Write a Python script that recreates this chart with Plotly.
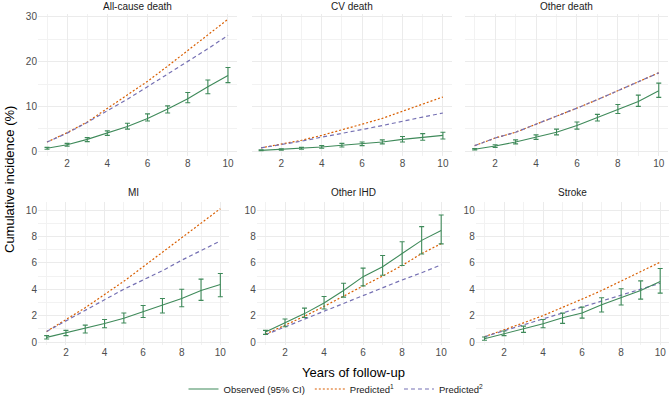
import plotly.graph_objects as go

years = [1, 2, 3, 4, 5, 6, 7, 8, 9, 10]

panel_titles = ["All-cause death", "CV death", "Other death", "MI", "Other IHD", "Stroke"]

# observed cumulative incidence with 95% CI, and two predicted curves
allcause_obs = [0.6, 1.4, 2.6, 4.0, 5.5, 7.3, 9.4, 11.7, 14.4, 16.9]
allcause_lo = [0.4, 1.1, 2.1, 3.5, 4.9, 6.7, 8.5, 10.8, 12.8, 15.3]
allcause_hi = [0.8, 1.7, 3.0, 4.5, 6.2, 8.3, 10.1, 13.1, 15.9, 18.7]
allcause_p1 = [2.0, 4.1, 6.5, 9.5, 12.4, 15.6, 19.0, 22.4, 26.0, 29.5]
allcause_p2 = [2.0, 4.0, 6.4, 9.0, 11.6, 14.4, 17.2, 20.0, 22.9, 25.9]

cv_obs = [0.15, 0.4, 0.6, 0.9, 1.3, 1.7, 2.0, 2.6, 3.1, 3.5]
cv_lo = [0.05, 0.2, 0.4, 0.6, 0.9, 1.2, 1.6, 2.0, 2.4, 2.7]
cv_hi = [0.25, 0.5, 0.8, 1.2, 1.7, 2.0, 2.5, 3.25, 3.9, 4.2]
cv_p1 = [0.7, 1.5, 2.4, 3.5, 4.7, 6.0, 7.3, 8.9, 10.5, 12.1]
cv_p2 = [0.7, 1.4, 2.2, 3.1, 3.9, 4.8, 5.7, 6.7, 7.6, 8.5]

other_obs = [0.4, 1.1, 2.0, 3.1, 4.2, 5.7, 7.5, 9.4, 11.1, 13.5]
other_lo = [0.25, 0.8, 1.6, 2.6, 3.6, 4.9, 6.7, 8.4, 10.0, 12.0]
other_hi = [0.55, 1.4, 2.5, 3.6, 4.9, 6.5, 8.2, 10.4, 12.5, 15.2]
other_p1 = [1.2, 2.9, 4.2, 6.0, 7.7, 9.6, 11.5, 13.5, 15.4, 17.5]
other_p2 = [1.2, 2.9, 4.2, 6.0, 7.7, 9.6, 11.5, 13.5, 15.4, 17.5]

mi_obs = [0.35, 0.7, 1.0, 1.4, 1.8, 2.3, 2.8, 3.3, 3.9, 4.35]
mi_lo = [0.23, 0.48, 0.68, 1.08, 1.44, 1.86, 2.2, 2.67, 3.15, 3.43]
mi_hi = [0.48, 0.88, 1.28, 1.7, 2.2, 2.77, 3.3, 4.0, 4.76, 5.19]
mi_p1 = [0.8, 1.7, 2.6, 3.6, 4.6, 5.7, 6.8, 7.9, 9.0, 10.1]
mi_p2 = [0.8, 1.6, 2.4, 3.2, 4.0, 4.7, 5.4, 6.2, 6.9, 7.65]

ihd_obs = [0.75, 1.45, 2.15, 2.95, 3.9, 4.95, 5.7, 6.7, 7.7, 8.45]
ihd_lo = [0.58, 1.16, 1.86, 2.5, 3.4, 4.25, 5.06, 5.8, 6.67, 7.43]
ihd_hi = [0.88, 1.74, 2.57, 3.45, 4.45, 5.6, 6.55, 7.6, 8.74, 9.62]
ihd_p1 = [0.6, 1.25, 1.95, 2.7, 3.5, 4.25, 5.0, 5.8, 6.7, 7.45]
ihd_p2 = [0.55, 1.15, 1.75, 2.35, 2.95, 3.55, 4.1, 4.7, 5.25, 5.85]

stroke_obs = [0.25, 0.63, 0.96, 1.38, 1.84, 2.2, 2.82, 3.38, 3.9, 4.58]
stroke_lo = [0.13, 0.48, 0.73, 1.08, 1.41, 1.81, 2.27, 2.8, 3.25, 3.7]
stroke_hi = [0.38, 0.83, 1.2, 1.7, 2.19, 2.64, 3.35, 4.03, 4.63, 5.57]
stroke_p1 = [0.4, 0.9, 1.45, 2.0, 2.6, 3.25, 3.9, 4.6, 5.3, 6.05]
stroke_p2 = [0.4, 0.85, 1.3, 1.75, 2.2, 2.65, 3.1, 3.55, 4.0, 4.45]

top_ticks = [0, 10, 20, 30]
bottom_ticks = [0, 2, 4, 6, 8, 10]
x_ticks = [2, 4, 6, 8, 10]

GREEN = "#3F8A5A"
ORANGE = "#D95F02"
PURPLE = "#7570B3"
FONT = "Liberation Sans, Arial, sans-serif"

panels = [
    (allcause_obs, allcause_lo, allcause_hi, allcause_p1, allcause_p2),
    (cv_obs, cv_lo, cv_hi, cv_p1, cv_p2),
    (other_obs, other_lo, other_hi, other_p1, other_p2),
    (mi_obs, mi_lo, mi_hi, mi_p1, mi_p2),
    (ihd_obs, ihd_lo, ihd_hi, ihd_p1, ihd_p2),
    (stroke_obs, stroke_lo, stroke_hi, stroke_p1, stroke_p2),
]

x_domains = [
    [0.0565, 0.3527], [0.375, 0.6726], [0.6927, 0.994],
    [0.0565, 0.3408], [0.382, 0.6696], [0.7079, 0.9955],
]
top_dom = [0.61, 0.966]
bot_dom = [0.1375, 0.495]

fig = go.Figure()

for i, (obs, lo, hi, p1, p2) in enumerate(panels):
    ax = "" if i == 0 else str(i + 1)
    first = i == 0
    fig.add_trace(go.Scatter(
        x=years, y=p1, mode="lines", name="Predicted<sup>1</sup>",
        line=dict(color=ORANGE, width=1.2, dash="2px,2px"),
        xaxis="x" + ax, yaxis="y" + ax, showlegend=first, legendrank=2,
    ))
    fig.add_trace(go.Scatter(
        x=years, y=p2, mode="lines", name="Predicted<sup>2</sup>",
        line=dict(color=PURPLE, width=1.2, dash="4px,3px"),
        xaxis="x" + ax, yaxis="y" + ax, showlegend=first, legendrank=3,
    ))
    fig.add_trace(go.Scatter(
        x=years, y=obs, mode="lines", name="Observed (95% CI)",
        line=dict(color=GREEN, width=1.1),
        error_y=dict(
            type="data", symmetric=False,
            array=[h - o for h, o in zip(hi, obs)],
            arrayminus=[o - l for o, l in zip(obs, lo)],
            color=GREEN, thickness=1.1, width=2.5,
        ),
        xaxis="x" + ax, yaxis="y" + ax, showlegend=first, legendrank=1,
    ))

grid = dict(showgrid=True, gridcolor="#EBEBEB", gridwidth=1, zeroline=False, automargin=False,
            showline=False, ticks="", tickfont=dict(size=10, color="#4D4D4D", family=FONT))

layout = {}
for i in range(6):
    key = "" if i == 0 else str(i + 1)
    top = i < 3
    layout["xaxis" + key] = dict(
        grid, domain=x_domains[i], range=[0.55, 10.45], tickvals=x_ticks,
        anchor="y" + key,
        minor=dict(tickvals=[1, 3, 5, 7, 9], showgrid=True, gridcolor="#F2F2F2", gridwidth=0.6),
    )
    layout["yaxis" + key] = dict(
        grid, domain=top_dom if top else bot_dom, anchor="x" + key,
        range=[-1.12, 30.76] if top else [-0.227, 10.606],
        tickvals=top_ticks if top else bottom_ticks,
        showticklabels=not (top and i > 0),
        minor=dict(tickvals=[5, 15, 25] if top else [1, 3, 5, 7, 9],
                   showgrid=True, gridcolor="#F2F2F2", gridwidth=0.6),
    )

annotations = []
for i, title in enumerate(panel_titles):
    d = x_domains[i]
    annotations.append(dict(
        text=title, x=(d[0] + d[1]) / 2, xref="paper", xanchor="center",
        y=1 - (6 if i < 3 else 192) / 400, yref="paper", yanchor="middle",
        showarrow=False, font=dict(size=10, color="#1A1A1A", family=FONT),
    ))
annotations.append(dict(
    text="Cumulative incidence (%)", x=10 / 672, y=1 - 180 / 400, xref="paper", yref="paper",
    xanchor="center", yanchor="middle",
    textangle=-90, showarrow=False, font=dict(size=13, color="#000000", family=FONT),
))
annotations.append(dict(
    text="Years of follow-up", x=353 / 672, y=1 - 372 / 400, xref="paper", yref="paper",
    xanchor="center", yanchor="middle",
    showarrow=False, font=dict(size=13, color="#000000", family=FONT),
))

fig.update_layout(
    **layout,
    annotations=annotations,
    width=672, height=400,
    margin=dict(l=0, r=0, t=0, b=0, autoexpand=False),
    paper_bgcolor="white", plot_bgcolor="white",
    font=dict(family=FONT),
    legend=dict(
        orientation="h", x=0.5, xanchor="center", y=1 - 389 / 400, yanchor="middle",
        font=dict(size=9.5, color="#1A1A1A", family=FONT),
        itemwidth=30, tracegroupgap=0,
    ),
)

# the page body has a default 8px margin; drop it so the figure fills the window
fig.write_html("out.html", config={"displayModeBar": False},
               post_script="document.body.style.margin='0';")
